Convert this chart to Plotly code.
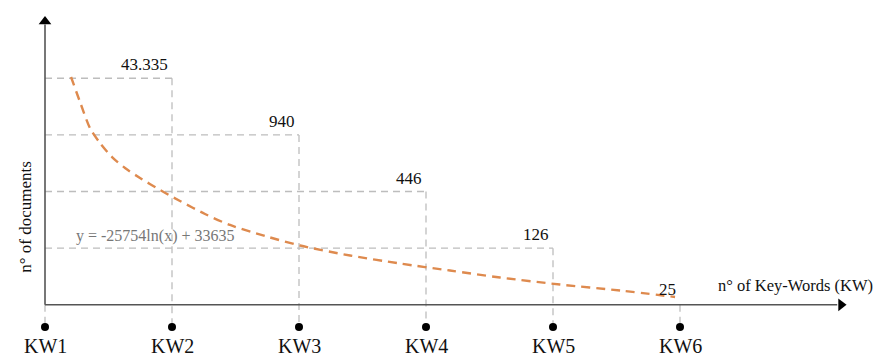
import plotly.graph_objects as go

# ---- data ----
kw_labels = ["KW1", "KW2", "KW3", "KW4", "KW5", "KW6"]
kw_index = [1, 2, 3, 4, 5, 6]
doc_labels = ["43.335", "940", "446", "126", "25"]      # for KW2..KW6
rung_level = [4, 3, 2, 1, 0]                              # schematic step level for KW2..KW6

# trend curve (x in KW units, y in schematic levels)
curve_x = [1.205, 1.276, 1.354, 1.433, 1.528, 1.630, 1.748, 1.906, 2.063, 2.260,
           2.457, 2.732, 3.008, 3.402, 3.795, 4.189, 4.583, 5.055, 5.528, 5.961]
curve_y = [4.022, 3.580, 3.121, 2.857, 2.609, 2.415, 2.239, 2.027, 1.833, 1.603,
           1.409, 1.215, 1.047, 0.870, 0.729, 0.605, 0.482, 0.358, 0.252, 0.138]

equation = "y = -25754ln(x) + 33635"
x_title = "n° of Key-Words (KW)"
y_title = "n° of documents"

# ---- layout constants (page has an 8px body margin) ----
W, H = 875, 348
X_RANGE = [1 - 37 / 127, 1 + (W - 37) / 127]
Y_RANGE = [-(H - 296.8) / 56.64, 296.8 / 56.64]
DOT_Y = -0.392
LABEL_Y = -0.727
X_END = 7.268
Y_END = 5.0
SERIF = "Liberation Serif, Times New Roman, serif"
GRID = "#bdbdbd"
DASH = dict(color=GRID, width=1.3, dash="7px,5px")

fig = go.Figure()

# dashed guide lines (horizontal rungs + vertical drops)
for k, lev in zip(kw_index[1:], rung_level):
    if lev > 0:
        fig.add_trace(go.Scatter(x=[kw_index[0], k], y=[lev, lev], mode="lines",
                                 line=DASH, hoverinfo="skip", showlegend=False))
    fig.add_trace(go.Scatter(x=[k, k], y=[lev, DOT_Y], mode="lines",
                             line=DASH, hoverinfo="skip", showlegend=False))
fig.add_trace(go.Scatter(x=[kw_index[0], kw_index[0]], y=[0, DOT_Y], mode="lines",
                         line=DASH, hoverinfo="skip", showlegend=False))

# trend curve
fig.add_trace(go.Scatter(x=curve_x, y=curve_y, mode="lines",
                         line=dict(color="#DE8A4E", width=2.4, dash="9px,6px", shape="spline",
                                   smoothing=0.8),
                         hoverinfo="skip", showlegend=False))

# axes
fig.add_trace(go.Scatter(x=[kw_index[0], kw_index[0]], y=[0, Y_END - 0.05], mode="lines",
                         line=dict(color="#555555", width=1.6), hoverinfo="skip", showlegend=False))
fig.add_trace(go.Scatter(x=[kw_index[0], X_END - 0.03], y=[0, 0], mode="lines",
                         line=dict(color="#555555", width=1.6), hoverinfo="skip", showlegend=False))
fig.add_trace(go.Scatter(x=[kw_index[0]], y=[Y_END], mode="markers",
                         marker=dict(symbol="triangle-up", size=11, color="black"),
                         hoverinfo="skip", showlegend=False))
fig.add_trace(go.Scatter(x=[X_END], y=[0], mode="markers",
                         marker=dict(symbol="triangle-right", size=11, color="black"),
                         hoverinfo="skip", showlegend=False))

# KW dots
fig.add_trace(go.Scatter(x=kw_index, y=[DOT_Y] * len(kw_index), mode="markers",
                         marker=dict(size=8, color="black"),
                         hoverinfo="skip", showlegend=False))
# KW labels
for k, lab in zip(kw_index, kw_labels):
    fig.add_annotation(x=k, y=LABEL_Y, text=lab, showarrow=False, xanchor="center", yanchor="middle",
                       font=dict(family=SERIF, size=20, color="#111111"))

# value labels
for k, lev, lab in zip(kw_index[1:], rung_level, doc_labels):
    fig.add_annotation(x=k, y=lev, text=lab, showarrow=False, xanchor="right", yanchor="bottom",
                       xshift=-2, yshift=2 if lev > 0 else 4,
                       font=dict(family=SERIF, size=17, color="#111111"))

# equation
fig.add_annotation(x=1.225, y=1.22, text=equation, showarrow=False, xanchor="left", yanchor="middle",
                   font=dict(family=SERIF, size=16, color="#777777"))

# axis titles
fig.add_annotation(x=6.91, y=0.34, text=x_title, showarrow=False, xanchor="center", yanchor="middle",
                   font=dict(family=SERIF, size=16.5, color="#111111"))
fig.add_annotation(x=0.84, y=1.55, text=y_title, showarrow=False, textangle=-90,
                   xanchor="center", yanchor="middle",
                   font=dict(family=SERIF, size=17, color="#111111"))

fig.update_layout(
    width=W, height=H,
    margin=dict(l=0, r=0, t=0, b=0),
    paper_bgcolor="white", plot_bgcolor="white",
    xaxis=dict(range=X_RANGE, visible=False, fixedrange=True),
    yaxis=dict(range=Y_RANGE, visible=False, fixedrange=True),
)

fig.write_html("out.html")
